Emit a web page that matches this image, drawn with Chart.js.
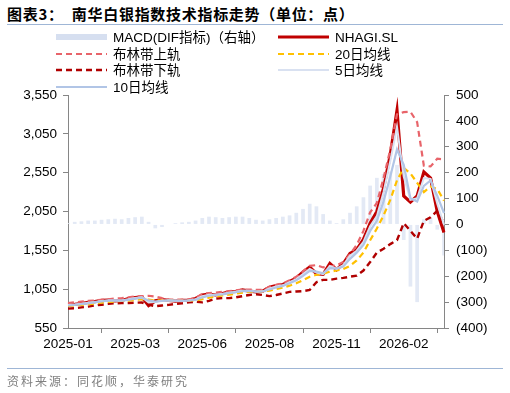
<!DOCTYPE html>
<html>
<head>
<meta charset="utf-8">
<script src="https://cdn.jsdelivr.net/npm/chart.js@4.4.1/dist/chart.umd.min.js"></script>
<style>
  html, body { margin: 0; padding: 0; background: #fff; }
  #wrap { position: relative; width: 510px; height: 393px; overflow: hidden; }
  #title { position: absolute; left: 7px; top: 3px; font-size: 15px; font-weight: bold; white-space: nowrap;
           letter-spacing: 0.7px; font-family: "Noto Sans CJK SC", sans-serif; color: #000; }
  .rule { position: absolute; left: 7px; width: 496px; height: 0; border-top: 1px solid #9fb6d6; }
  #source { position: absolute; left: 7px; top: 372px; font-size: 12px; color: #808080; letter-spacing: 2px;
            font-family: "Noto Sans CJK SC", sans-serif; white-space: nowrap; }
  #chart { position: absolute; left: 0; top: 0; }
</style>
</head>
<body>
<div id="wrap">
  <div id="title">图表3：&nbsp; 南华白银指数技术指标走势（单位：点）</div>
  <div class="rule" style="top:24px"></div>
  <canvas id="chart" width="510" height="393"></canvas>
  <div class="rule" style="top:368px"></div>
  <div id="source">资料来源：同花顺，华泰研究</div>
</div>
<script>
// x axis: one point every 5 trading days, a tick every 10 points
const xTickLabels = ['2025-01', '2025-03', '2025-06', '2025-08', '2025-11', '2026-02'];
const pointCount = 57;

// NHAGI.SL close
const nhagi = [850, 855, 865, 880, 890, 905, 910, 900, 905, 930,
               940, 950, 840, 900, 915, 905, 895, 905, 910, 930,
               975, 985, 975, 995, 1015, 1020, 1040, 1025, 1015, 1025,
               1075, 1095, 1110, 1150, 1190, 1270, 1335, 1250, 1240, 1380,
               1300, 1380, 1510, 1560, 1690, 1900, 2050, 2350, 2780, 3350,
               2250, 2170, 2250, 2560, 2480, 2050, 1780];
const ma5 = [845, 852, 862, 875, 885, 898, 905, 903, 903, 920,
             935, 945, 880, 885, 905, 905, 900, 902, 905, 920,
             960, 978, 978, 990, 1005, 1018, 1032, 1028, 1018, 1022,
             1060, 1085, 1100, 1140, 1180, 1245, 1310, 1265, 1245, 1350,
             1310, 1360, 1480, 1545, 1660, 1860, 1990, 2300, 2700, 3140,
             2500, 2200, 2220, 2480, 2470, 2150, 1880];
const ma10 = [840, 848, 858, 868, 880, 892, 902, 905, 903, 912,
              928, 940, 905, 890, 898, 905, 903, 900, 905, 912,
              945, 965, 975, 983, 998, 1010, 1025, 1028, 1022, 1020,
              1045, 1072, 1092, 1125, 1165, 1220, 1285, 1275, 1255, 1320,
              1315, 1340, 1440, 1520, 1620, 1800, 1930, 2180, 2500, 2850,
              2650, 2220, 2180, 2380, 2450, 2250, 2030];
const ma20 = [835, 840, 848, 855, 865, 875, 885, 892, 898, 902,
              910, 920, 915, 905, 905, 905, 900, 900, 903, 905,
              920, 940, 955, 968, 980, 992, 1005, 1015, 1018, 1020,
              1030, 1050, 1070, 1095, 1125, 1165, 1210, 1235, 1250, 1275,
              1290, 1310, 1350, 1420, 1520, 1680, 1830, 2000, 2200, 2450,
              2610, 2540, 2420, 2300, 2370, 2340, 2190];
const bollUpper = [870, 880, 890, 900, 905, 912, 920, 930, 935, 945,
                   955, 960, 965, 955, 935, 920, 915, 915, 920, 935,
                   990, 1000, 1005, 1015, 1025, 1035, 1045, 1045, 1040, 1040,
                   1080, 1105, 1125, 1165, 1210, 1280, 1350, 1360, 1330, 1345,
                   1355, 1400, 1500, 1620, 1800, 2040, 2160, 2480, 2850, 3300,
                   3330, 3335, 3200, 2640, 2630, 2730, 2720];
const bollLower = [800, 805, 815, 825, 840, 850, 860, 868, 870, 872,
                   875, 878, 850, 830, 840, 848, 860, 868, 880, 888,
                   880, 900, 930, 935, 935, 945, 960, 975, 985, 975,
                   960, 975, 995, 1015, 1020, 1025, 1040, 1140, 1170, 1170,
                   1185, 1195, 1210, 1225, 1290, 1400, 1520, 1570, 1630, 1680,
                   1900, 1800, 1700, 1930, 1975, 2060, 1900];
// MACD (DIF), right axis
const macdDif = [5, 10, 12, 15, 15, 18, 20, 22, 20, 25,
                 28, 30, 10, -15, -10, 0, 5, 8, 10, 15,
                 25, 30, 28, 25, 28, 30, 30, 25, 18, 15,
                 20, 25, 30, 35, 45, 60, 80, 70, 40, 15,
                 5, 20, 45, 70, 105, 150, 180, 195, 205, 230,
                 -60, -240, -300, 20, 25, -20, -120];

const labels = Array.from({ length: pointCount }, (_, i) => i % 10 === 0 ? xTickLabels[i / 10] : '');

const fontFamily = '"Liberation Sans", "Noto Sans CJK SC", sans-serif';
const axisGray = '#868686';

function lineSet(label, data, color, width, dash, order) {
    return {
        type: 'line', label: label, data: data, yAxisID: 'y',
        borderColor: color, backgroundColor: color, borderWidth: width,
        borderDash: dash, pointRadius: 0, tension: 0, order: order
    };
}

// legend drawn on the canvas in two columns
const legendPlugin = {
    id: 'twoColLegend',
    afterDraw(chart) {
        const ctx = chart.ctx;
        ctx.save();
        ctx.font = '13.5px ' + fontFamily;
        ctx.textBaseline = 'middle';
        const cols = [56, 278], rows = [37, 54, 70, 87];
        chart.data.datasets.forEach((ds, k) => {
            const x = cols[k % 2], y = rows[Math.floor(k / 2)];
            if (ds.type === 'bar') {
                ctx.fillStyle = '#d6dff0';
                ctx.fillRect(x, y - 3, 51, 6);
            } else {
                ctx.strokeStyle = ds.borderColor;
                ctx.lineWidth = ds.borderWidth;
                ctx.setLineDash(ds.borderDash || []);
                ctx.beginPath();
                ctx.moveTo(x, y);
                ctx.lineTo(x + 51, y);
                ctx.stroke();
                ctx.setLineDash([]);
            }
            ctx.fillStyle = '#000';
            ctx.fillText(ds.label, x + 57, y + 1);
        });
        ctx.restore();
    }
};

new Chart(document.getElementById('chart').getContext('2d'), {
    data: {
        labels: labels,
        datasets: [
            {
                type: 'bar', label: 'MACD(DIF指标)（右轴）', data: macdDif, yAxisID: 'y1',
                backgroundColor: '#e3e9f5', categoryPercentage: 1, barPercentage: 0.55, order: 10
            },
            lineSet('NHAGI.SL', nhagi, '#c00000', 3.2, [], 6),
            lineSet('布林带上轨', bollUpper, '#e8646a', 2.2, [6, 4], 5),
            lineSet('20日均线', ma20, '#ffc000', 2.2, [6, 4], 3),
            lineSet('布林带下轨', bollLower, '#b00000', 2.4, [6, 4], 4),
            lineSet('5日均线', ma5, '#d9e1f1', 2, [], 2),
            lineSet('10日均线', ma10, '#b1c5e6', 2.2, [], 1)
        ]
    },
    options: {
        responsive: false,
        animation: false,
        layout: { padding: { top: 95, left: 0, right: 0, bottom: 0 } },
        plugins: { legend: { display: false }, tooltip: { enabled: false } },
        scales: {
            x: {
                offset: false,
                grid: { drawOnChartArea: false, tickLength: 5, color: axisGray },
                border: { color: axisGray },
                ticks: {
                    autoSkip: false, maxRotation: 0, padding: 3, color: '#000',
                    font: { family: fontFamily, size: 13.5 },
                    callback: (v, i) => i % 10 === 0 ? labels[i] : null
                },
                afterFit: s => { s.height = 65; }
            },
            y: {
                position: 'left', min: 550, max: 3550,
                grid: { drawOnChartArea: false, tickLength: 5, color: axisGray },
                border: { color: axisGray },
                ticks: {
                    stepSize: 500, padding: 6, color: '#000',
                    font: { family: fontFamily, size: 13.5 },
                    callback: v => v.toLocaleString('en-US')
                },
                afterFit: s => { s.width = 68; }
            },
            y1: {
                position: 'right', min: -400, max: 500,
                grid: { drawOnChartArea: false, tickLength: 5, color: axisGray },
                border: { color: axisGray },
                ticks: {
                    stepSize: 100, padding: 7, color: '#000',
                    font: { family: fontFamily, size: 13.5 },
                    callback: v => v < 0 ? '(' + Math.abs(v) + ')' : String(v)
                },
                afterFit: s => { s.width = 66; }
            }
        }
    },
    plugins: [legendPlugin]
});
</script>
</body>
</html>
